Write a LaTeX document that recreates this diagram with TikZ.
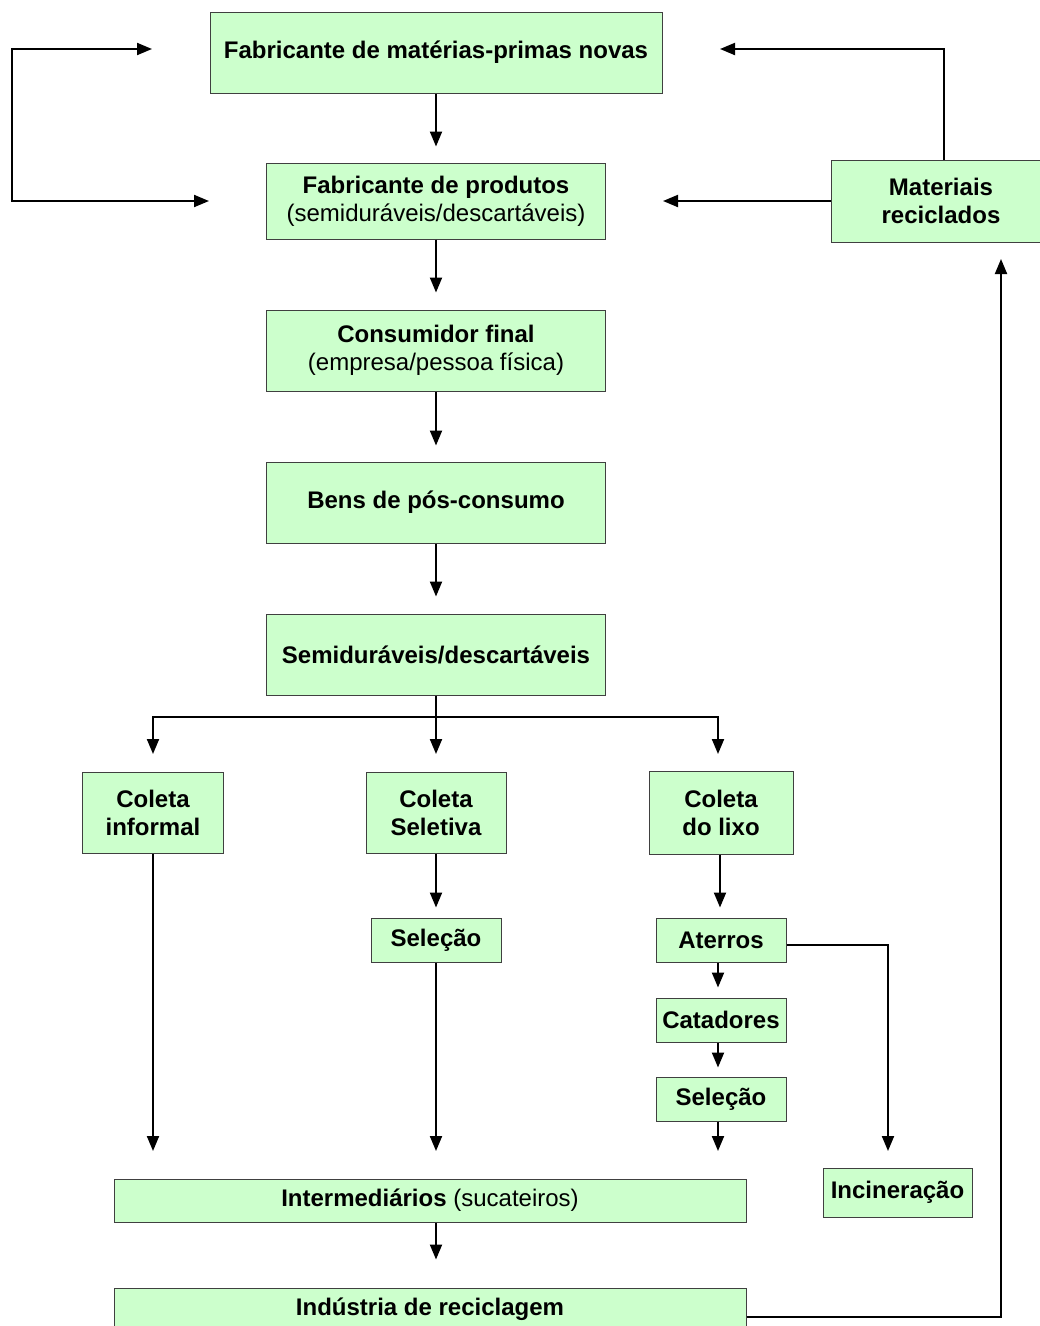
\documentclass[tikz,border=0pt]{standalone}
\usepackage{fontspec}
\setmainfont{Liberation Sans}
\usetikzlibrary{arrows.meta}
\definecolor{boxfill}{RGB}{204,255,204}
\definecolor{boxline}{RGB}{64,64,64}
\tikzset{
  box/.style={draw=boxline, line width=1pt, fill=boxfill, align=center, inner sep=0pt,
    font=\fontsize{24}{28}\selectfont\bfseries},
  arr/.style={line width=2pt, -{Triangle[length=15pt,width=12pt]}},
  plain/.style={line width=2pt},
}
\begin{document}
\begin{tikzpicture}[x=1pt,y=-1pt]
\useasboundingbox (0,0) rectangle (1040,1326);
\clip (0,0) rectangle (1040,1326);
% nodes
\node[box, minimum width=452, minimum height=81] (b1) at (436,52.5) {Fabricante de matérias-primas novas};
\node[box, minimum width=339, minimum height=76] (b2) at (436,201) {Fabricante de produtos\\\mdseries(semiduráveis/descartáveis)};
\node[box, minimum width=339, minimum height=81] (b3) at (436,350.5) {Consumidor final\\\mdseries(empresa/pessoa física)};
\node[box, minimum width=339, minimum height=81] (b4) at (436,502.5) {Bens de pós-consumo};
\node[box, minimum width=339, minimum height=81] (b5) at (436,654.5) {Semiduráveis/descartáveis};
\node[box, minimum width=220, minimum height=82] (mat) at (941,201) {Materiais\\reciclados};
\node[box, minimum width=141, minimum height=81] (ci) at (153,812.5) {Coleta\\informal};
\node[box, minimum width=140, minimum height=81] (cs) at (436,812.5) {Coleta\\Seletiva};
\node[box, minimum width=144, minimum height=83] (cl) at (721,812.5) {Coleta\\do lixo};
\node[box, minimum width=130, minimum height=44] (sm) at (436,940) {Seleção};
\node[box, minimum width=130, minimum height=44] (at) at (721,940) {Aterros};
\node[box, minimum width=130, minimum height=44] (ca) at (721,1020) {Catadores};
\node[box, minimum width=130, minimum height=44] (sr) at (721,1099) {Seleção};
\node[box, minimum width=149, minimum height=49] (inc) at (897.5,1192.5) {Incineração};
\node[box, minimum width=632, minimum height=43] (int) at (430,1200.5) {Intermediários \mdseries(sucateiros)};
\node[box, minimum width=632, minimum height=43] (ind) at (430,1309.5) {Indústria de reciclagem};
% coordinates
\coordinate (l1) at (152,49);
\coordinate (l2) at (209,201);
\coordinate (lc1) at (12,49);
\coordinate (lc2) at (12,201);
\coordinate (r1) at (720,49);
\coordinate (rc1) at (944,49);
\coordinate (r2) at (663,201);
\coordinate (split) at (436,717);
\coordinate (t1) at (153,754);
\coordinate (t2) at (436,754);
\coordinate (t3) at (718,754);
\coordinate (e1) at (153,1151);
\coordinate (e2) at (436,1151);
\coordinate (e3) at (718,1151);
\coordinate (e4) at (888,1151);
\coordinate (ac) at (888,945);
\coordinate (ic) at (1001,1317);
\coordinate (mu) at (1001,259);
% connectors
\draw[line width=2pt, {Triangle[length=15pt,width=12pt]}-{Triangle[length=15pt,width=12pt]}] (l1) -- (lc1) -- (lc2) -- (l2);
\draw[arr, shorten >=16pt] (b1) -- (b2);
\draw[arr, shorten >=17pt] (b2) -- (b3);
\draw[arr, shorten >=16pt] (b3) -- (b4);
\draw[arr, shorten >=17pt] (b4) -- (b5);
\draw[plain] (b5.south) -- (split);
\draw[arr] (split) -- (t2);
\draw[arr] (split) -| (t1);
\draw[arr] (split) -| (t3);
\draw[arr] (ci.south) -- (e1);
\draw[arr, shorten >=10pt] (cs) -- (sm);
\draw[arr] (sm.south) -- (e2);
\draw[arr, shorten >=10pt] (cl.south -| 720,0) -- (at.north -| 720,0);
\draw[arr, shorten >=10pt] (at.south -| 718,0) -- (ca.north -| 718,0);
\draw[arr, shorten >=9pt] (ca.south -| 718,0) -- (sr.north -| 718,0);
\draw[arr] (sr.south -| 718,0) -- (e3);
\draw[arr] (at.east |- ac) -- (ac) -- (e4);
\draw[arr, shorten >=28pt] (int.south -| 436,0) -- (ind.north -| 436,0);
\draw[arr] (ind.east |- ic) -- (ic) -- (mu);
\draw[arr] (mat.north -| rc1) -- (rc1) -- (r1);
\draw[arr] (mat.west) -- (r2);
\end{tikzpicture}
\end{document}
